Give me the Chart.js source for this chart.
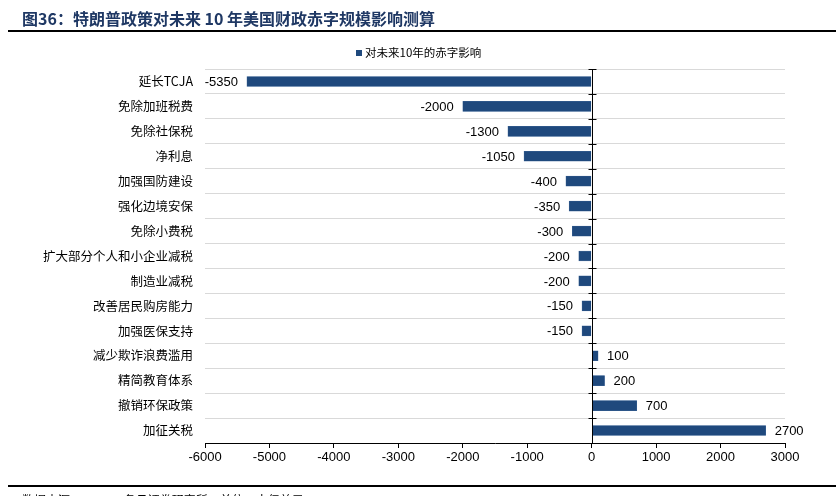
<!DOCTYPE html>
<html>
<head>
<meta charset="utf-8">
<script src="https://cdn.jsdelivr.net/npm/chart.js@4.4.1/dist/chart.umd.min.js"></script>
<style>
    html, body { margin: 0; padding: 0; background: #fff; }
    #wrap { position: relative; width: 836px; height: 496px; overflow: hidden; }
    #title {
        position: absolute; left: 22px; top: 6px;
        font-family: "Noto Sans CJK SC", serif; font-weight: bold;
        font-size: 16px; color: #1f3864; white-space: nowrap;
    }
    .rule { position: absolute; left: 8px; right: 0; height: 2px; background: #000; }
    #source {
        position: absolute; left: 22px; top: 491px;
        font-family: "Noto Sans CJK SC", sans-serif; font-size: 12px; color: #000; white-space: nowrap;
    }
    #chartBox { position: absolute; left: 0; top: 0; width: 836px; height: 496px; }
</style>
</head>
<body>
<div id="wrap">
    <div id="chartBox"><canvas id="barChart"></canvas></div>
    <div id="title">图36：特朗普政策对未来 10 年美国财政赤字规模影响测算</div>
    <div class="rule" style="top:30px"></div>
    <div class="rule" style="top:485px"></div>
    <div id="source">数据来源：CRFB，各月证券研究所，单位：十亿美元</div>
</div>
<script>
// categories and values (billion USD, 10-year deficit impact)
const categories = ['延长TCJA', '免除加班税费', '免除社保税', '净利息', '加强国防建设', '强化边境安保',
    '免除小费税', '扩大部分个人和小企业减税', '制造业减税', '改善居民购房能力', '加强医保支持',
    '减少欺诈浪费滥用', '精简教育体系', '撤销环保政策', '加征关税'];
const deficitImpact = [-5350, -2000, -1300, -1050, -400, -350, -300, -200, -200, -150, -150, 100, 200, 700, 2700];
const xTicks = [-6000, -5000, -4000, -3000, -2000, -1000, 0, 1000, 2000, 3000];
const seriesName = '对未来10年的赤字影响';

const barColor = '#1f497d';

// value labels next to bar ends
const valueLabels = {
    id: 'valueLabels',
    afterDatasetsDraw(chart) {
        const ctx = chart.ctx;
        const meta = chart.getDatasetMeta(0);
        ctx.save();
        ctx.font = '13px "Liberation Sans", Arial, sans-serif';
        ctx.fillStyle = '#000';
        ctx.textBaseline = 'middle';
        meta.data.forEach((bar, i) => {
            const v = deficitImpact[i];
            if (v < 0) {
                ctx.textAlign = 'right';
                ctx.fillText(String(v), bar.x - 9, bar.y + 1);
            } else {
                ctx.textAlign = 'left';
                ctx.fillText(String(v), bar.x + 9, bar.y + 1);
            }
        });
        ctx.restore();
    }
};

// vertical axis line at zero with small ticks between categories
const zeroAxis = {
    id: 'zeroAxis',
    afterDatasetsDraw(chart) {
        const ctx = chart.ctx;
        const area = chart.chartArea;
        const x0 = Math.round(chart.scales.x.getPixelForValue(0)) + 0.5;
        ctx.save();
        ctx.strokeStyle = '#000';
        ctx.lineWidth = 1;
        ctx.beginPath();
        ctx.moveTo(x0, area.top);
        ctx.lineTo(x0, area.bottom);
        const step = (area.bottom - area.top) / categories.length;
        for (let i = 0; i <= categories.length; i++) {
            const ty = Math.round(area.top + i * step) + 0.5;
            ctx.moveTo(x0 - 4, ty);
            ctx.lineTo(x0 + 4, ty);
        }
        ctx.stroke();
        ctx.restore();
    }
};

// legend sits a bit right of the page centre, so draw it by hand
const seriesLegend = {
    id: 'seriesLegend',
    afterDraw(chart) {
        const ctx = chart.ctx;
        ctx.save();
        ctx.fillStyle = barColor;
        ctx.fillRect(356, 50, 6, 6);
        ctx.fillStyle = '#000';
        ctx.font = '11.5px "Noto Sans CJK SC", sans-serif';
        ctx.textAlign = 'left';
        ctx.textBaseline = 'middle';
        ctx.fillText(seriesName, 365, 53);
        ctx.restore();
    }
};

const ctx = document.getElementById('barChart').getContext('2d');
const barChart = new Chart(ctx, {
    type: 'bar',
    data: {
        labels: categories,
        datasets: [{
            label: seriesName,
            data: deficitImpact,
            backgroundColor: barColor,
            borderColor: '#3d6597',
            borderWidth: 0.5,
            barThickness: 10
        }]
    },
    options: {
        indexAxis: 'y',
        responsive: true,
        maintainAspectRatio: false,
        animation: false,
        layout: { padding: { top: 69, right: 51, bottom: 0, left: 0 } },
        plugins: {
            legend: { display: false },
            tooltip: { enabled: false }
        },
        scales: {
            x: {
                min: -6000,
                max: 3000,
                afterBuildTicks(scale) {
                    scale.ticks = xTicks.map(v => ({ value: v }));
                },
                afterFit(scale) { scale.height = 53; },
                grid: {
                    drawOnChartArea: false,
                    drawTicks: true,
                    tickLength: 5,
                    color: '#000'
                },
                border: { display: true, color: '#000' },
                ticks: {
                    color: '#000',
                    padding: 2,
                    maxRotation: 0,
                    callback: v => String(v),
                    font: { size: 13, family: '"Liberation Sans", Arial, sans-serif' }
                }
            },
            y: {
                afterFit(scale) { scale.width = 205; },
                grid: {
                    offset: true,
                    drawTicks: false,
                    color: '#d9d9d9'
                },
                border: { display: false },
                ticks: {
                    color: '#000',
                    padding: 12,
                    font: { size: 12.5, family: '"Noto Sans CJK SC", sans-serif' }
                }
            }
        }
    },
    plugins: [valueLabels, zeroAxis, seriesLegend]
});
</script>
</body>
</html>
